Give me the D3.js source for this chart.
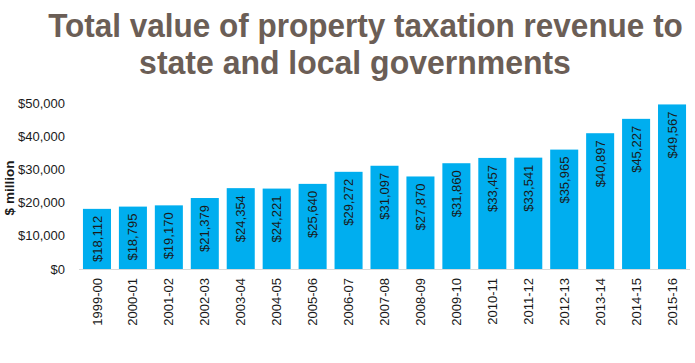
<!DOCTYPE html>
<html>
<head>
<meta charset="utf-8">
<script src="https://cdn.jsdelivr.net/npm/d3@7"></script>
<style>
  body { margin: 0; background: #fff; }
  svg { display: block; }
</style>
</head>
<body>
<script>
const years = ["1999-00", "2000-01", "2001-02", "2002-03", "2003-04", "2004-05", "2005-06",
  "2006-07", "2007-08", "2008-09", "2009-10", "2010-11", "2011-12", "2012-13",
  "2013-14", "2014-15", "2015-16"];
const revenue = [18112, 18795, 19170, 21379, 24354, 24221, 25640, 29272, 31097, 27870,
  31860, 33457, 33541, 35965, 40897, 45227, 49567];
const yTicks = [0, 10000, 20000, 30000, 40000, 50000];
const titleLines = ["Total value of property taxation revenue to", "state and local governments"];

const width = 695, height = 363;
const margin = {left: 79, right: 5, top: 103, bottom: 94};

const svg = d3.select("body").append("svg")
    .attr("width", width)
    .attr("height", height)
    .attr("font-family", "'Liberation Sans', Arial, sans-serif");

const x = d3.scaleBand()
    .domain(years)
    .range([margin.left, width - margin.right])
    .paddingInner(0.22)
    .paddingOuter(0.11);

const y = d3.scaleLinear()
    .domain([0, 50000])
    .range([height - margin.bottom, margin.top]);

const fmt = d3.format(",");

// title: no narrow face installed, so squeeze it horizontally
const titleWidths = [635, 432];
const titleX = [365.5, 355];
svg.append("g")
    .attr("font-weight", "bold")
    .attr("font-size", 33)
    .attr("fill", "#6b5e56")
    .attr("text-anchor", "middle")
  .selectAll("text")
  .data(titleLines)
  .join("text")
    .text(d => d)
    .attr("transform", function(d, i) {
      const k = titleWidths[i] / this.getComputedTextLength();
      return `translate(${titleX[i]},${37 + i * 37}) scale(${k},1)`;
    });

// y axis
const yAxis = svg.append("g")
    .attr("transform", `translate(${margin.left},0)`)
    .call(d3.axisLeft(y).tickValues(yTicks).tickSize(0).tickPadding(14).tickFormat(d => "$" + fmt(d)));
yAxis.select(".domain").remove();
yAxis.selectAll("text")
    .attr("font-size", 13)
    .attr("fill", "#1a1a1a")
    .attr("font-family", "'Liberation Sans', Arial, sans-serif");

svg.append("text")
    .attr("transform", "translate(14,188) rotate(-90)")
    .attr("text-anchor", "middle")
    .attr("font-size", 13.5)
    .attr("font-weight", "bold")
    .attr("fill", "#1a1a1a")
    .text("$ million");

// bars
svg.append("g")
    .attr("fill", "#00aeef")
  .selectAll("rect")
  .data(revenue)
  .join("rect")
    .attr("x", (d, i) => x(years[i]))
    .attr("y", d => y(d))
    .attr("width", x.bandwidth())
    .attr("height", d => y(0) - y(d));

// baseline
svg.append("line")
    .attr("x1", margin.left)
    .attr("x2", width - margin.right)
    .attr("y1", y(0) + 0.5)
    .attr("y2", y(0) + 0.5)
    .attr("stroke", "#d9d9d9");

// data labels
svg.append("g")
    .attr("font-size", 13)
    .attr("fill", "#1a1a1a")
    .attr("text-anchor", "end")
  .selectAll("text")
  .data(revenue)
  .join("text")
    .attr("transform", (d, i) => `translate(${x(years[i]) + x.bandwidth() / 2},${y(d) + 7}) rotate(-90)`)
    .attr("dy", "0.35em")
    .text(d => "$" + fmt(d));

// x axis
const xAxis = svg.append("g")
    .attr("transform", `translate(0,${y(0)})`)
    .call(d3.axisBottom(x).tickSize(0).tickPadding(0));
xAxis.select(".domain").remove();
xAxis.selectAll("text")
    .attr("font-size", 13)
    .attr("fill", "#1a1a1a")
    .attr("font-family", "'Liberation Sans', Arial, sans-serif")
    .attr("text-anchor", "end")
    .attr("dy", "0.35em")
    .attr("transform", "translate(0,9) rotate(-90)")
    .attr("y", 0)
    .attr("x", 0);
</script>
</body>
</html>
